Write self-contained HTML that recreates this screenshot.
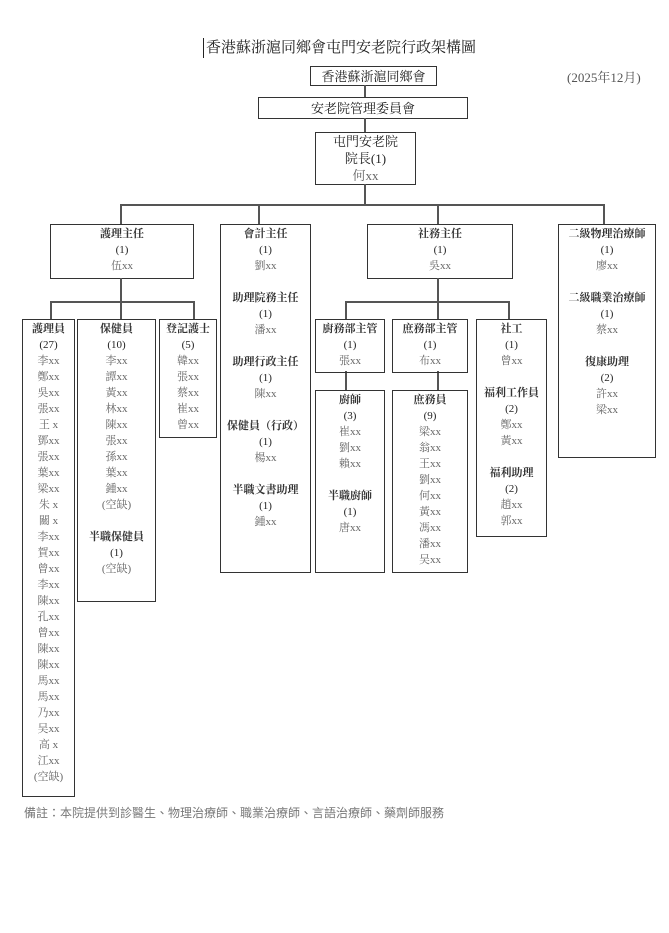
<!DOCTYPE html>
<html><head><meta charset="utf-8"><style>
body{margin:0;background:#fff;}
#c{position:relative;width:669px;height:933px;overflow:hidden;font-family:"Liberation Serif","Noto Serif CJK SC",serif;color:#222;}
.b{position:absolute;border:1.5px solid #333;box-sizing:border-box;text-align:center;font-size:11px;line-height:16px;padding-top:1px;}
.b .g{color:#666;}
.b .h{font-weight:bold;color:#333;}
.l{position:absolute;background:#555;}
.t{position:absolute;white-space:nowrap;}
</style></head><body><div id="c">
<div class="t" style="left:203px;top:38px;font-size:15px;border-left:1.5px solid #222;padding-left:2px;line-height:20px;">香港蘇浙滬同鄉會屯門安老院行政架構圖</div>
<div class="t" style="left:567px;top:67px;font-size:13px;color:#555;">(2025年12月)</div>

<div class="b" style="left:310px;top:66px;width:127px;height:20px;font-size:13px;line-height:17px;">香港蘇浙滬同鄉會</div>
<div class="b" style="left:258px;top:97px;width:210px;height:22px;font-size:13px;line-height:19px;">安老院管理委員會</div>
<div class="b" style="left:315px;top:132px;width:101px;height:53px;font-size:13px;line-height:17px;padding-top:0">屯門安老院<br>院長(1)<br><span class="g">何xx</span></div>

<div class="l" style="left:364px;top:85px;width:1.5px;height:12px"></div>
<div class="l" style="left:364px;top:118px;width:1.5px;height:14px"></div>
<div class="l" style="left:364px;top:184px;width:1.5px;height:21px"></div>
<div class="l" style="left:120px;top:204px;width:484px;height:1.5px"></div>
<div class="l" style="left:120px;top:204px;width:1.5px;height:20px"></div>
<div class="l" style="left:258px;top:204px;width:1.5px;height:20px"></div>
<div class="l" style="left:437px;top:204px;width:1.5px;height:20px"></div>
<div class="l" style="left:603px;top:204px;width:1.5px;height:20px"></div>

<div class="b" style="left:50px;top:224px;width:144px;height:55px;"><span class="h">護理主任</span><br>(1)<br><span class="g">伍xx</span></div>
<div class="b" style="left:220px;top:224px;width:91px;height:349px;"><span class="h">會計主任</span><br>(1)<br><span class="g">劉xx</span><br><br><span class="h">助理院務主任</span><br>(1)<br><span class="g">潘xx</span><br><br><span class="h">助理行政主任</span><br>(1)<br><span class="g">陳xx</span><br><br><span class="h">保健員（行政）</span><br>(1)<br><span class="g">楊xx</span><br><br><span class="h">半職文書助理</span><br>(1)<br><span class="g">鍾xx</span></div>
<div class="b" style="left:367px;top:224px;width:146px;height:55px;"><span class="h">社務主任</span><br>(1)<br><span class="g">吳xx</span></div>
<div class="b" style="left:558px;top:224px;width:98px;height:234px;"><span class="h">二級物理治療師</span><br>(1)<br><span class="g">廖xx</span><br><br><span class="h">二級職業治療師</span><br>(1)<br><span class="g">蔡xx</span><br><br><span class="h">復康助理</span><br>(2)<br><span class="g">許xx<br>梁xx</span></div>

<div class="l" style="left:120px;top:278px;width:1.5px;height:41px"></div>
<div class="l" style="left:50px;top:301px;width:144px;height:1.5px"></div>
<div class="l" style="left:50px;top:301px;width:1.5px;height:18px"></div>
<div class="l" style="left:193px;top:301px;width:1.5px;height:18px"></div>

<div class="l" style="left:437px;top:278px;width:1.5px;height:41px"></div>
<div class="l" style="left:345px;top:301px;width:164px;height:1.5px"></div>
<div class="l" style="left:345px;top:301px;width:1.5px;height:18px"></div>
<div class="l" style="left:508px;top:301px;width:1.5px;height:18px"></div>
<div class="l" style="left:345px;top:371px;width:1.5px;height:19px"></div>
<div class="l" style="left:437px;top:371px;width:1.5px;height:19px"></div>

<div class="b" style="left:22px;top:319px;width:53px;height:478px;"><span class="h">護理員</span><br>(27)<br><span class="g">李xx<br>鄭xx<br>吳xx<br>張xx<br>王 x<br>鄧xx<br>張xx<br>葉xx<br>梁xx<br>朱 x<br>關 x<br>李xx<br>賀xx<br>曾xx<br>李xx<br>陳xx<br>孔xx<br>曾xx<br>陳xx<br>陳xx<br>馬xx<br>馬xx<br>乃xx<br>吴xx<br>高 x<br>江xx<br>(空缺)</span></div>
<div class="b" style="left:77px;top:319px;width:79px;height:283px;"><span class="h">保健員</span><br>(10)<br><span class="g">李xx<br>譚xx<br>黃xx<br>林xx<br>陳xx<br>張xx<br>孫xx<br>葉xx<br>鍾xx<br>(空缺)</span><br><br><span class="h">半職保健員</span><br>(1)<br><span class="g">(空缺)</span></div>
<div class="b" style="left:159px;top:319px;width:58px;height:119px;"><span class="h">登記護士</span><br>(5)<br><span class="g">韓xx<br>張xx<br>蔡xx<br>崔xx<br>曾xx</span></div>

<div class="b" style="left:315px;top:319px;width:70px;height:54px;"><span class="h">廚務部主管</span><br>(1)<br><span class="g">張xx</span></div>
<div class="b" style="left:392px;top:319px;width:76px;height:54px;"><span class="h">庶務部主管</span><br>(1)<br><span class="g">布xx</span></div>
<div class="b" style="left:476px;top:319px;width:71px;height:218px;"><span class="h">社工</span><br>(1)<br><span class="g">曾xx</span><br><br><span class="h">福利工作員</span><br>(2)<br><span class="g">鄭xx<br>黃xx</span><br><br><span class="h">福利助理</span><br>(2)<br><span class="g">趙xx<br>郭xx</span></div>
<div class="b" style="left:315px;top:390px;width:70px;height:183px;"><span class="h">廚師</span><br>(3)<br><span class="g">崔xx<br>劉xx<br>賴xx</span><br><br><span class="h">半職廚師</span><br>(1)<br><span class="g">唐xx</span></div>
<div class="b" style="left:392px;top:390px;width:76px;height:183px;"><span class="h">庶務員</span><br>(9)<br><span class="g">梁xx<br>翁xx<br>王xx<br>劉xx<br>何xx<br>黃xx<br>馮xx<br>潘xx<br>吴xx</span></div>

<div class="t" style="left:24px;top:804px;font-size:12px;color:#777;font-family:'Liberation Sans','Noto Sans CJK TC',sans-serif;">備註：本院提供到診醫生、物理治療師、職業治療師、言語治療師、藥劑師服務</div>
</div></body></html>
